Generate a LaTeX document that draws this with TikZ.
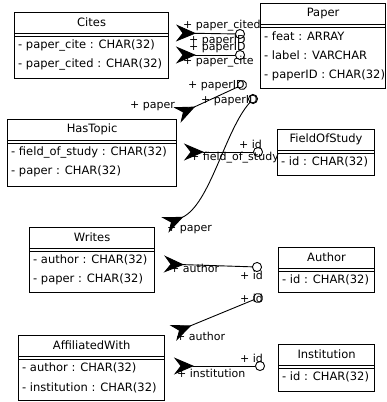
\documentclass[tikz,border=0pt]{standalone}
\usepackage{fontspec}
\setmainfont{DejaVu Sans}
\usetikzlibrary{arrows.meta,calc}
\tikzset{
  classframe/.style={draw=black, line width=1.2pt, fill=white, inner sep=0pt},
  classtitle/.style={font=\fontsize{11.5}{13}\selectfont, inner sep=0pt},
  attr/.style={font=\fontsize{11.5}{13}\selectfont, inner sep=0pt, anchor=west},
  sepline/.style={line width=1pt},
  lbl/.style={font=\fontsize{11}{13}\selectfont, inner sep=0pt, anchor=west},
  rel/.style={line width=0.9pt, shorten >=-5pt,
    {Stealth[reversed,length=20pt,width=17pt]}-{Circle[open,length=10pt,width=10pt,line width=0.9pt]}}
}
\newcommand{\umlclass}[6]{%
  \node[classframe, minimum width={(#4-#2)*1pt}, minimum height={(#5-#3)*1pt}, anchor=north west] (#1) at (#2,#3) {};
  \node[classtitle] (#1-t) at ($(#1.north)+(0,10.5)$) {#6};
  \draw[sepline] ($(#1.north west)+(0,21)$) -- ($(#1.north east)+(0,21)$);
  \draw[sepline] ($(#1.north west)+(0,24)$) -- ($(#1.north east)+(0,24)$);
}
\newcommand{\umlattr}[3]{% class, row index (0-based), text
  \node[attr] (#1-a#2) at ($(#1.north west)+(4,33+19.5*#2)$) {#3};
}
\begin{document}
\begin{tikzpicture}[x=1pt,y=-1pt]
\useasboundingbox[fill=white] (0,0) rectangle (386,402);

% classes
\umlclass{cites}{14}{12}{168}{78}{Cites}
\umlattr{cites}{0}{- paper\_cite : CHAR(32)}
\umlattr{cites}{1}{- paper\_cited : CHAR(32)}

\umlclass{paper}{260}{3}{385}{88}{Paper}
\umlattr{paper}{0}{- feat : ARRAY}
\umlattr{paper}{1}{- label : VARCHAR}
\umlattr{paper}{2}{- paperID : CHAR(32)}

\umlclass{hastopic}{7}{119}{176}{186}{HasTopic}
\umlattr{hastopic}{0}{- field\_of\_study : CHAR(32)}
\umlattr{hastopic}{1}{- paper : CHAR(32)}

\umlclass{fos}{277}{129}{374}{175}{FieldOfStudy}
\umlattr{fos}{0}{- id : CHAR(32)}

\umlclass{writes}{29}{227}{154}{292}{Writes}
\umlattr{writes}{0}{- author : CHAR(32)}
\umlattr{writes}{1}{- paper : CHAR(32)}

\umlclass{author}{278}{247}{374}{292}{Author}
\umlattr{author}{0}{- id : CHAR(32)}

\umlclass{affil}{18}{335}{164}{400}{AffiliatedWith}
\umlattr{affil}{0}{- author : CHAR(32)}
\umlattr{affil}{1}{- institution : CHAR(32)}

\umlclass{inst}{278}{344}{374}{391}{Institution}
\umlattr{inst}{0}{- id : CHAR(32)}

% connector end points
\coordinate (r1s) at (176,33);  \coordinate (r1e) at (240,34);
\coordinate (r2s) at (176,55);  \coordinate (r2e) at (240,55);
\coordinate (r3s) at (177,115); \coordinate (r3e) at (242,85);
\coordinate (r4s) at (165,225); \coordinate (r4e) at (253,99);
\coordinate (r5s) at (184,152); \coordinate (r5e) at (258,152);
\coordinate (r6s) at (164,264); \coordinate (r6e) at (257,267);
\coordinate (r7s) at (173,333); \coordinate (r7e) at (258,298);
\coordinate (r8s) at (174,366); \coordinate (r8e) at (260,366);

% connectors
\draw[rel] (r1s) -- (r1e);
\draw[rel] (r2s) -- (r2e);
\draw[rel] (r3s) -- (r3e);
\draw[rel] (r4s) .. controls (210,205) and (225,130) .. (r4e);
\draw[rel] (r5s) -- (r5e);
\draw[rel] (r6s) -- (r6e);
\draw[rel] (r7s) -- (r7e);
\draw[rel] (r8s) -- (r8e);

% connector labels
\node[lbl] (l1a) at (183,26) {+ paper\_cited};
\node[lbl] (l1b) at (189,41) {+ paperID};
\node[lbl] (l2a) at (189,48) {+ paperID};
\node[lbl] (l2b) at (183,62) {+ paper\_cite};
\node[lbl] (l3a) at (130,106) {+ paper};
\node[lbl] (l3b) at (188,86) {+ paperID};
\node[lbl] (l4a) at (167,229) {+ paper};
\node[lbl] (l4b) at (201,101) {+ paperID};
\node[lbl] (l5a) at (190,158) {+ field\_of\_study};
\node[lbl] (l5b) at (239,144) {+ id};
\node[lbl] (l6a) at (170,268) {+ author};
\node[lbl] (l6b) at (240,275) {+ id};
\node[lbl] (l7a) at (176,336) {+ author};
\node[lbl] (l7b) at (240,298) {+ id};
\node[lbl] (l8a) at (177,373) {+ institution};
\node[lbl] (l8b) at (240,358) {+ id};
\end{tikzpicture}
\end{document}
